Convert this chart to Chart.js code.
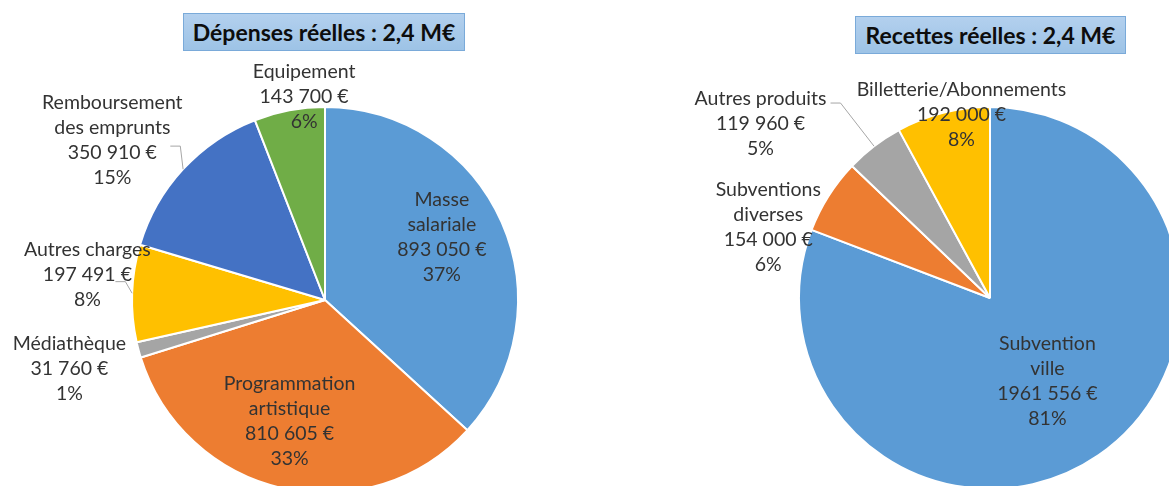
<!DOCTYPE html>
<html lang="fr">
<head>
<meta charset="utf-8">
<title>Dépenses et recettes réelles</title>
<script src="https://cdn.jsdelivr.net/npm/chart.js@4.4.1/dist/chart.umd.min.js"></script>
<style>
  html, body { margin: 0; padding: 0; background: #fff; width: 1169px; height: 486px; overflow: hidden; position: relative; }
  canvas { position: absolute; top: 0; }
  #depenses-chart { left: 0; }
  #recettes-chart { left: 650px; }
  .title-box {
    position: absolute; box-sizing: border-box; height: 38px;
    border: 1px solid #7aaad9;
    background: linear-gradient(#b3d0ee, #9dc3e6);
    font-family: Lato, 'Open Sans', sans-serif; font-weight: bold; font-size: 23px; color: #0d0d0d;
    display: flex; align-items: center; justify-content: center;
  }
  #depenses-title { left: 183px; top: 13px; width: 282px; }
  #recettes-title { left: 855px; top: 16px; width: 271px; }
</style>
</head>
<body>
<canvas id="depenses-chart" width="650" height="600"></canvas>
<canvas id="recettes-chart" width="680" height="600"></canvas>
<div class="title-box" id="depenses-title">Dépenses réelles : 2,4 M€</div>
<div class="title-box" id="recettes-title">Recettes réelles : 2,4 M€</div>
<script>
// Dépenses
const depenseLabels = [['Masse', 'salariale'], ['Programmation', 'artistique'], ['Médiathèque'], ['Autres charges'], ['Remboursement', 'des emprunts'], ['Equipement']];
const depenseValues = [893050, 810605, 31760, 197491, 350910, 143700];
const depensePercents = ['37%', '33%', '1%', '8%', '15%', '6%'];
const depenseColors = ['#5b9bd5', '#ed7d31', '#a5a5a5', '#ffc000', '#4472c4', '#70ad47'];

// Recettes
const recetteLabels = [['Subvention', 'ville'], ['Subventions', 'diverses'], ['Autres produits'], ['Billetterie/Abonnements']];
const recetteValues = [1961556, 154000, 119960, 192000];
const recettePercents = ['81%', '6%', '5%', '8%'];
const recetteColors = ['#5b9bd5', '#ed7d31', '#a5a5a5', '#ffc000'];

const LINE_H = 25;

// label placement: distance along slice middle (x radius), pixel nudge, leader line start
const labelLayout = {
    'depenses-chart': {
        percents: depensePercents,
        dist: [0.69, 0.655, 1.371, 1.237, 1.379, 1.062],
        nudge: [[-5, -9], [-8, -2], [0, 0], [1, -17], [-17, 21], [17, -2]],
        leaders: [null, null, null, [28, 7], [58, 5.5], null]
    },
    'recettes-chart': {
        percents: recettePercents,
        dist: [0.53, 1.219, 1.505, 0.969],
        nudge: [[0, 0], [-25, 54], [-55, 54], [17, -4]],
        leaders: [null, null, [70, -20.5], null]
    }
};

function formatEuro(n) {
    // same as the source sheet: only the last group is separated
    const s = String(n);
    return s.slice(0, -3) + ' ' + s.slice(-3) + ' €';
}

const sliceLabels = {
    id: 'sliceLabels',
    afterDatasetsDraw(chart) {
        const layout = labelLayout[chart.canvas.id];
        const ctx = chart.ctx;
        const values = chart.data.datasets[0].data;
        const arcs = chart.getDatasetMeta(0).data;
        ctx.save();
        arcs.forEach((arc, i) => {
            const p = arc.getProps(['x', 'y', 'startAngle', 'endAngle', 'outerRadius'], true);
            const mid = (p.startAngle + p.endAngle) / 2;
            const d = layout.dist[i] * p.outerRadius;
            const ax = p.x + Math.cos(mid) * d + layout.nudge[i][0];
            const ay = p.y + Math.sin(mid) * d + layout.nudge[i][1];

            const lead = layout.leaders[i];
            if (lead) {
                const sx = ax + lead[0], sy = ay + lead[1];
                ctx.beginPath();
                ctx.moveTo(sx, sy);
                ctx.lineTo(sx + 10, sy);
                ctx.lineTo(p.x + Math.cos(mid) * p.outerRadius, p.y + Math.sin(mid) * p.outerRadius);
                ctx.strokeStyle = '#a6a6a6';
                ctx.lineWidth = 1;
                ctx.stroke();
            }

            const lines = [...chart.data.labels[i], formatEuro(values[i]), layout.percents[i]];
            ctx.font = '19.5px Lato';
            ctx.fillStyle = '#333333';
            ctx.textAlign = 'center';
            ctx.textBaseline = 'middle';
            const top = ay - (lines.length - 1) * LINE_H / 2;
            lines.forEach((t, k) => ctx.fillText(t, ax, top + k * LINE_H));
        });
        ctx.restore();
    }
};

function makePie(id, labels, values, colors, padding) {
    return new Chart(document.getElementById(id), {
        type: 'pie',
        data: {
            labels: labels,
            datasets: [{
                data: values,
                backgroundColor: colors,
                borderColor: '#ffffff',
                borderWidth: 2
            }]
        },
        options: {
            responsive: false,
            animation: false,
            layout: { padding: padding },
            plugins: {
                legend: { display: false },
                tooltip: { enabled: false }
            }
        },
        plugins: [sliceLabels]
    });
}

makePie('depenses-chart', depenseLabels, depenseValues, depenseColors, { left: 131, right: 131, top: 106, bottom: 106 });
makePie('recettes-chart', recetteLabels, recetteValues, recetteColors, { left: 148, right: 148, top: 106, bottom: 110 });
</script>
</body>
</html>
